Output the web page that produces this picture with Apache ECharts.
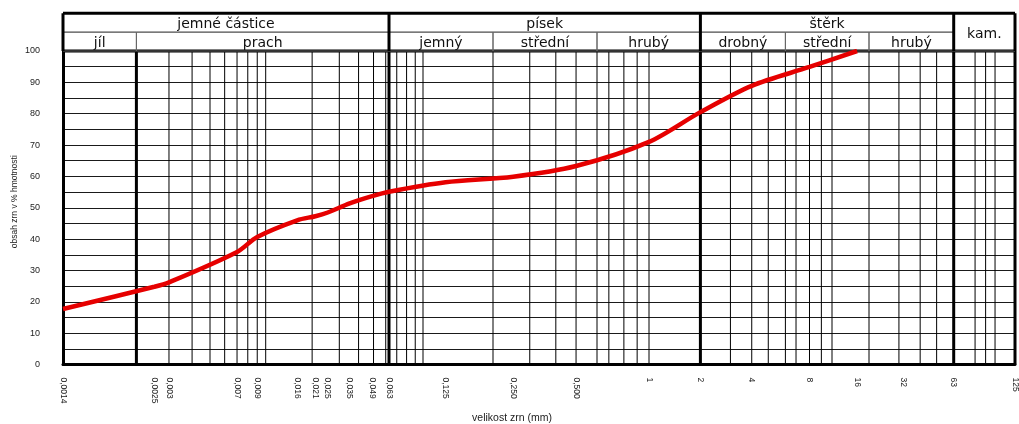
<!DOCTYPE html>
<html>
<head>
<meta charset="utf-8">
<script src="https://cdn.jsdelivr.net/npm/echarts@6/dist/echarts.min.js"></script>
<style>
  html, body { margin: 0; padding: 0; background: #fff; }
  #chart { width: 1019px; height: 424px; }
</style>
</head>
<body>
<div id="chart"></div>
<script>
// Grain-size distribution curve (křivka zrnitosti)

// measured grain sizes (mm) and cumulative passing (% by mass)
const grainSizes = [0.0014, 0.0025, 0.003, 0.007, 0.009, 0.016, 0.021, 0.025, 0.035, 0.049, 0.063, 0.125, 0.25, 0.5, 1, 2, 4, 8, 16];
const passingPercent = [17.7, 24.8, 26.2, 35.9, 40.7, 46.0, 47.3, 48.4, 51.4, 53.7, 55.1, 58.1, 59.9, 63.3, 71.0, 80.5, 88.9, 94.9, 100];

// tick labels along the size axis
const labelSizes = [0.0014, 0.0025, 0.003, 0.007, 0.009, 0.016, 0.021, 0.025, 0.035, 0.049, 0.063, 0.125, 0.25, 0.5, 1, 2, 4, 8, 16, 32, 63, 125];
const sizeLabels = ['0,0014', '0,0025', '0,003', '0,007', '0,009', '0,016', '0,021', '0,025', '0,035', '0,049', '0,063', '0,125', '0,250', '0,500', '1', '2', '4', '8', '16', '32', '63', '125'];

// soil fractions shown in the header
const fractionNames = ['jemné částice', 'písek', 'štěrk', 'kam.'];
const fractionBounds = [0.0014, 0.063, 2, 63, 125];
const subfractionNames = ['jíl', 'prach', 'jemný', 'střední', 'hrubý', 'drobný', 'střední', 'hrubý'];
const subfractionBounds = [0.0014, 0.002, 0.063, 0.2, 0.63, 2, 6.3, 20, 63];

// thin vertical rulings inside the fractions (mm)
const minorGridSizes = [
  0.003, 0.004, 0.005, 0.006, 0.007, 0.008, 0.009, 0.01, 0.02, 0.03, 0.04, 0.05, 0.06,
  0.07, 0.08, 0.09, 0.1, 0.2, 0.3, 0.4, 0.5, 0.63, 0.7, 0.8, 0.9, 1,
  3, 4, 5, 6.3, 7, 8, 9, 10, 20, 30, 40, 50, 80, 90, 100
];
// heavy vertical rulings (main fraction boundaries, mm)
const majorGridSizes = [0.002, 0.063, 2, 63, 125];

// Size axis of the form: logarithmic within each stretch between stops
const scaleStops = [
  [0.0014, 0], [0.002, 73.4], [0.01, 202.7], [0.063, 326], [0.1, 360], [0.2, 430],
  [0.63, 534], [1, 586], [2, 637.4], [6.3, 722.4], [10, 769], [20, 806], [63, 890.7], [125, 952]
];
const AXIS_MAX = scaleStops[scaleStops.length - 1][1];

function toAxis(d) {
  for (let i = 1; i < scaleStops.length; i++) {
    const [d0, u0] = scaleStops[i - 1];
    const [d1, u1] = scaleStops[i];
    if (d <= d1 || i === scaleStops.length - 1) {
      const t = Math.log(d / d0) / Math.log(d1 / d0);
      return u0 + t * (u1 - u0);
    }
  }
}

const labelAxisValues = labelSizes.map(toAxis);

// header cells: [x0, x1, y0, y1, text]
const headerCells = [];
for (let i = 0; i < subfractionNames.length; i++) {
  headerCells.push([toAxis(subfractionBounds[i]), toAxis(subfractionBounds[i + 1]), 0, 1, subfractionNames[i]]);
}
for (let i = 0; i < fractionNames.length; i++) {
  const spansBoth = i === fractionNames.length - 1;
  headerCells.push([toAxis(fractionBounds[i]), toAxis(fractionBounds[i + 1]), spansBoth ? 0 : 1, 2, fractionNames[i]]);
}

// ruling segments: [x0, y0, x1, y1, width]
const plotRules = [];
minorGridSizes.forEach(d => plotRules.push([toAxis(d), 0, toAxis(d), 100, 1]));
majorGridSizes.forEach(d => plotRules.push([toAxis(d), 0, toAxis(d), 100, 3]));
plotRules.push([0, 100, AXIS_MAX, 100, 3]);

const headerRules = [];
fractionBounds.forEach(d => headerRules.push([toAxis(d), 0, toAxis(d), 2, 3]));
headerRules.push([0, 2, AXIS_MAX, 2, 3]);

function renderRule(params, api) {
  const p0 = api.coord([api.value(0), api.value(1)]);
  const p1 = api.coord([api.value(2), api.value(3)]);
  return {
    type: 'line',
    shape: { x1: p0[0], y1: p0[1], x2: p1[0], y2: p1[1] },
    style: { stroke: '#000', lineWidth: api.value(4) }
  };
}

const chart = echarts.init(document.getElementById('chart'), null, { renderer: 'canvas' });

chart.setOption({
  animation: false,
  backgroundColor: '#fff',
  grid: [
    { left: 63, right: 4, top: 51, bottom: 59.5, containLabel: false, outerBoundsMode: 'none' },
    { left: 63, right: 4, top: 13.3, height: 37.7, containLabel: false, outerBoundsMode: 'none' }
  ],
  xAxis: [
    {
      gridIndex: 0, type: 'value', min: 0, max: AXIS_MAX,
      axisLine: { show: true, lineStyle: { color: '#000', width: 3 } },
      axisTick: { show: false },
      splitLine: { show: false },
      axisLabel: {
        customValues: labelAxisValues,
        formatter: v => {
          const i = labelAxisValues.findIndex(u => Math.abs(u - v) < 1e-6);
          return i >= 0 ? sizeLabels[i] : '';
        },
        rotate: -90, margin: 13, fontSize: 8.5, color: '#222', fontFamily: 'Liberation Sans'
      },
      name: 'velikost zrn (mm)', nameLocation: 'middle', nameGap: 48, nameMoveOverlap: false,
      nameTextStyle: { fontSize: 10.5, color: '#222', fontFamily: 'Liberation Sans', padding: [0, 54, 0, 0] }
    },
    { gridIndex: 1, type: 'value', min: 0, max: AXIS_MAX, show: false }
  ],
  yAxis: [
    {
      gridIndex: 0, type: 'value', min: 0, max: 100, interval: 5,
      axisLine: { show: true, lineStyle: { color: '#000', width: 3 } },
      axisTick: { show: false },
      splitLine: { show: true, lineStyle: { color: '#1a1a1a', width: 1 } },
      axisLabel: {
        formatter: v => (v % 10 === 0 ? String(v) : ''),
        margin: 23, fontSize: 9, color: '#222', fontFamily: 'Liberation Sans'
      },
      name: 'obsah zrn v % hmotnosti', nameLocation: 'middle', nameGap: 44, nameMoveOverlap: false,
      nameTextStyle: { fontSize: 8.5, color: '#222', fontFamily: 'Liberation Sans', padding: [0, 0, 0, 12] }
    },
    { gridIndex: 1, type: 'value', min: 0, max: 2, show: false }
  ],
  series: [
    {
      type: 'custom', xAxisIndex: 0, yAxisIndex: 0, silent: true, z: 1,
      data: plotRules, encode: { x: [0, 2], y: [1, 3] },
      renderItem: renderRule
    },
    {
      type: 'custom', xAxisIndex: 1, yAxisIndex: 1, silent: true, z: 1,
      data: headerCells.map(c => c.slice(0, 4)), encode: { x: [0, 1], y: [2, 3] },
      renderItem: (params, api) => {
        const c = headerCells[params.dataIndex];
        const p0 = api.coord([c[0], c[3]]);
        const p1 = api.coord([c[1], c[2]]);
        return {
          type: 'group',
          children: [
            {
              type: 'rect',
              shape: { x: p0[0], y: p0[1], width: p1[0] - p0[0], height: p1[1] - p0[1] },
              style: { fill: 'none', stroke: '#666', lineWidth: 1 }
            },
            {
              type: 'text',
              x: (p0[0] + p1[0]) / 2, y: (p0[1] + p1[1]) / 2 + 2,
              style: {
                text: c[4], align: 'center', verticalAlign: 'middle',
                font: '14px "DejaVu Sans"', fill: '#111'
              }
            }
          ]
        };
      }
    },
    {
      type: 'custom', xAxisIndex: 1, yAxisIndex: 1, silent: true, z: 2,
      data: headerRules, encode: { x: [0, 2], y: [1, 3] },
      renderItem: renderRule
    },
    {
      type: 'line', xAxisIndex: 0, yAxisIndex: 0, z: 5,
      data: grainSizes.map((d, i) => [toAxis(d), passingPercent[i]]),
      smooth: 0.3, symbol: 'none',
      lineStyle: { color: '#e60000', width: 4.5 }
    }
  ]
});
</script>
</body>
</html>
